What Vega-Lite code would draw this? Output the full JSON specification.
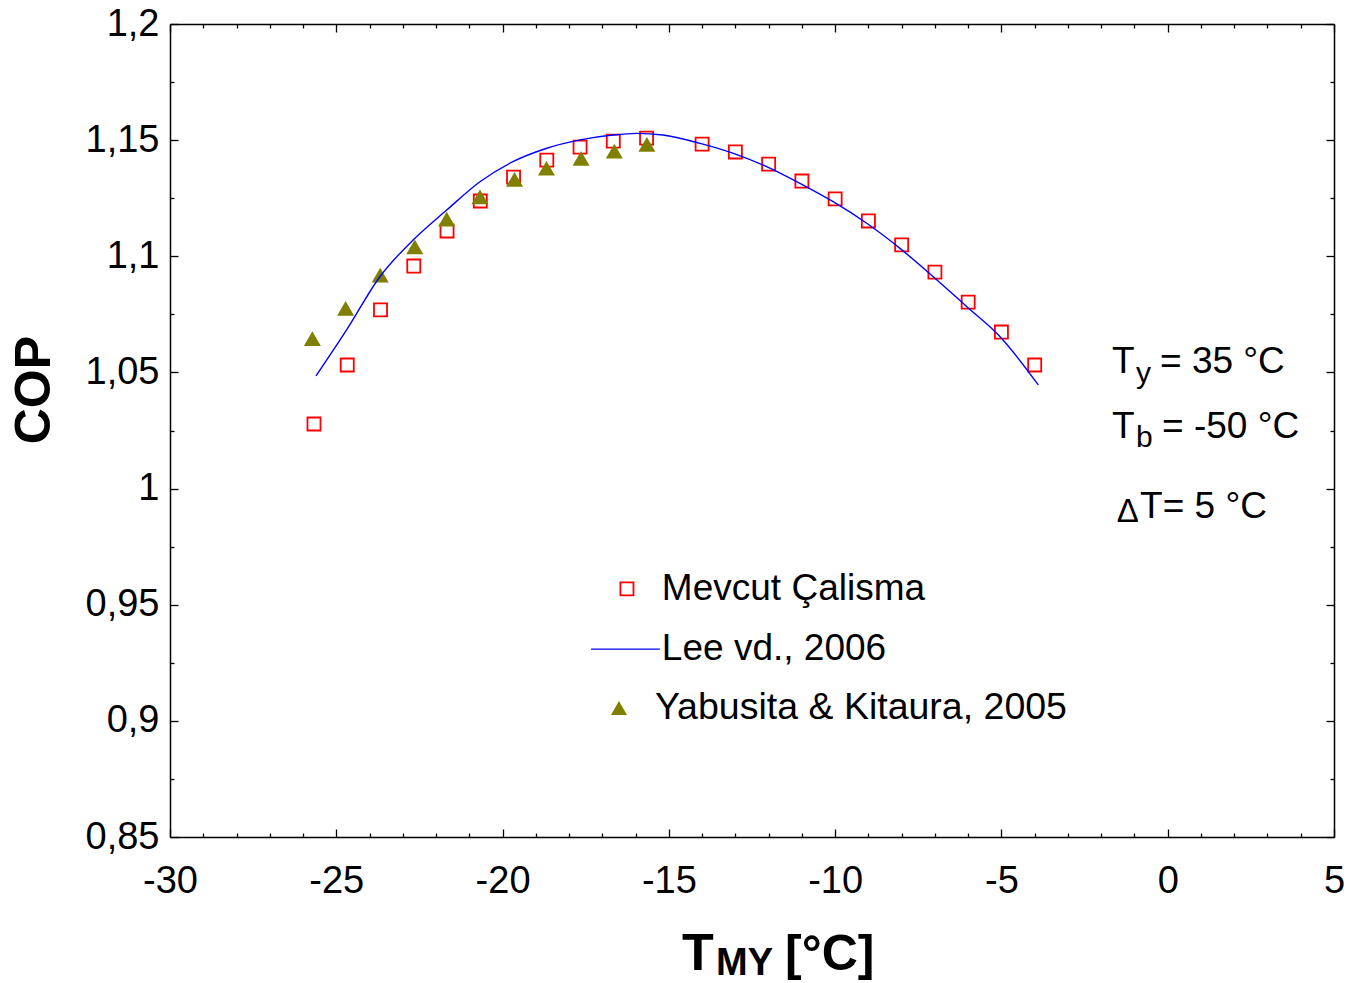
{
  "$schema": "https://vega.github.io/schema/vega-lite/v6.json",
  "width": 1164,
  "height": 813,
  "autosize": {"type": "none"},
  "padding": {"left": 170, "top": 24, "right": 20, "bottom": 146},
  "background": "white",
  "config": {
    "view": {"stroke": null},
    "axis": {
      "grid": false,
      "domainColor": "#000000",
      "domainWidth": 1.5,
      "tickColor": "#000000",
      "tickWidth": 1.3,
      "labelFont": "Liberation Sans",
      "labelFontSize": 38,
      "labelColor": "#000000",
      "labelOverlap": false,
      "labelFlush": false,
      "labelBound": false,
      "title": null
    },
    "text": {"font": "Liberation Sans", "color": "#000000"}
  },
  "datasets": {
    "mevcut": [
      {"x": -25.67, "y": 1.0278}, {"x": -24.67, "y": 1.0532}, {"x": -23.67, "y": 1.0769},
      {"x": -22.67, "y": 1.0958}, {"x": -21.67, "y": 1.1109}, {"x": -20.67, "y": 1.1238},
      {"x": -19.67, "y": 1.1341}, {"x": -18.67, "y": 1.1414}, {"x": -17.67, "y": 1.1470},
      {"x": -16.67, "y": 1.1496}, {"x": -15.67, "y": 1.1509}, {"x": -14, "y": 1.1483},
      {"x": -13, "y": 1.1449}, {"x": -12, "y": 1.1397}, {"x": -11, "y": 1.1324},
      {"x": -10, "y": 1.1247}, {"x": -9, "y": 1.1152}, {"x": -8, "y": 1.1049},
      {"x": -7, "y": 1.0932}, {"x": -6, "y": 1.0803}, {"x": -5, "y": 1.0674},
      {"x": -4, "y": 1.0532}
    ],
    "yabusita": [
      {"x": -25.72, "y": 1.0646}, {"x": -24.72, "y": 1.0776}, {"x": -23.68, "y": 1.0919},
      {"x": -22.64, "y": 1.1041}, {"x": -21.68, "y": 1.1160}, {"x": -20.68, "y": 1.1256},
      {"x": -19.64, "y": 1.1331}, {"x": -18.68, "y": 1.1379}, {"x": -17.64, "y": 1.1422},
      {"x": -16.64, "y": 1.1453}, {"x": -15.66, "y": 1.1482}
    ],
    "lee": [
      {"x": -25.61, "y": 1.0485}, {"x": -24.69, "y": 1.0683}, {"x": -23.69, "y": 1.0912},
      {"x": -22.69, "y": 1.1070}, {"x": -21.68, "y": 1.1199}, {"x": -20.68, "y": 1.1321},
      {"x": -19.69, "y": 1.1407}, {"x": -18.67, "y": 1.1465}, {"x": -17.67, "y": 1.1501},
      {"x": -16.68, "y": 1.1522}, {"x": -15.97, "y": 1.1529}, {"x": -15.18, "y": 1.1522},
      {"x": -14.06, "y": 1.1486}, {"x": -13.06, "y": 1.1443}, {"x": -12.06, "y": 1.1386},
      {"x": -11.06, "y": 1.1314}, {"x": -10.06, "y": 1.1235}, {"x": -9.05, "y": 1.1142},
      {"x": -8.05, "y": 1.1034}, {"x": -7.05, "y": 1.0912}, {"x": -6.04, "y": 1.0783},
      {"x": -5.04, "y": 1.0654}, {"x": -3.89, "y": 1.0446}
    ],
    "one": [{}]
  },
  "layer": [
    {
      "data": {"name": "mevcut"},
      "mark": {"type": "point", "shape": "square", "filled": false, "stroke": "#FF0000", "strokeWidth": 1.8, "size": 170, "opacity": 1},
      "encoding": {
        "x": {
          "field": "x", "type": "quantitative",
          "scale": {"domain": [-30, 5], "nice": false, "zero": false},
          "axis": {
            "orient": "bottom",
            "values": [-30,-29,-28,-27,-26,-25,-24,-23,-22,-21,-20,-19,-18,-17,-16,-15,-14,-13,-12,-11,-10,-9,-8,-7,-6,-5,-4,-3,-2,-1,0,1,2,3,4,5],
            "tickSize": {"condition": {"test": "datum.value % 5 === 0", "value": -8}, "value": -4},
            "labelExpr": "datum.value % 5 === 0 ? '' + datum.value : ''",
            "labelPadding": 33
          }
        },
        "y": {
          "field": "y", "type": "quantitative",
          "scale": {"domain": [0.85, 1.2], "nice": false, "zero": false},
          "axis": {
            "orient": "left",
            "values": [0.85,0.875,0.9,0.925,0.95,0.975,1,1.025,1.05,1.075,1.1,1.125,1.15,1.175,1.2],
            "tickSize": {"condition": {"test": "abs(datum.value*20 - round(datum.value*20)) < 0.001", "value": -8}, "value": -4},
            "labelExpr": "abs(datum.value*20 - round(datum.value*20)) < 0.001 ? replace(format(datum.value, '.2~f'), '.', ',') : ''",
            "labelPadding": 19
          }
        }
      }
    },
    {
      "data": {"name": "yabusita"},
      "mark": {"type": "point", "shape": "triangle-up", "filled": true, "fill": "#808000", "stroke": null, "size": 290, "opacity": 1},
      "encoding": {
        "x": {
          "field": "x", "type": "quantitative",
          "axis": {
            "orient": "top",
            "values": [-30,-29,-28,-27,-26,-25,-24,-23,-22,-21,-20,-19,-18,-17,-16,-15,-14,-13,-12,-11,-10,-9,-8,-7,-6,-5,-4,-3,-2,-1,0,1,2,3,4,5],
            "tickSize": {"condition": {"test": "datum.value % 5 === 0", "value": -8}, "value": -4},
            "labels": false
          }
        },
        "y": {
          "field": "y", "type": "quantitative",
          "axis": {
            "orient": "right",
            "values": [0.85,0.875,0.9,0.925,0.95,0.975,1,1.025,1.05,1.075,1.1,1.125,1.15,1.175,1.2],
            "tickSize": {"condition": {"test": "abs(datum.value*20 - round(datum.value*20)) < 0.001", "value": -8}, "value": -4},
            "labels": false
          }
        }
      }
    },
    {
      "data": {"name": "lee"},
      "mark": {"type": "line", "color": "#0000FF", "strokeWidth": 1.4, "interpolate": "monotone"},
      "encoding": {
        "x": {"field": "x", "type": "quantitative", "axis": null},
        "y": {"field": "y", "type": "quantitative", "axis": null}
      }
    },
    {
      "data": {"name": "one"},
      "mark": {"type": "point", "shape": "square", "filled": false, "stroke": "#FF0000", "strokeWidth": 1.8, "size": 170, "opacity": 1},
      "encoding": {
        "x": {"datum": -16.26, "type": "quantitative", "axis": null},
        "y": {"datum": 0.9568, "type": "quantitative", "axis": null}
      }
    },
    {
      "data": {"name": "one"},
      "mark": {"type": "text", "text": "Mevcut Çalisma", "fontSize": 37, "align": "left", "baseline": "middle"},
      "encoding": {
        "x": {"datum": -15.21, "type": "quantitative", "axis": null},
        "y": {"datum": 0.9568, "type": "quantitative", "axis": null}
      }
    },
    {
      "data": {"name": "one"},
      "mark": {"type": "rule", "color": "#0000FF", "strokeWidth": 1.4},
      "encoding": {
        "x": {"datum": -17.34, "type": "quantitative", "axis": null},
        "x2": {"datum": -15.27},
        "y": {"datum": 0.9309, "type": "quantitative", "axis": null}
      }
    },
    {
      "data": {"name": "one"},
      "mark": {"type": "text", "text": "Lee vd., 2006", "fontSize": 37, "align": "left", "baseline": "middle"},
      "encoding": {
        "x": {"datum": -15.21, "type": "quantitative", "axis": null},
        "y": {"datum": 0.9309, "type": "quantitative", "axis": null}
      }
    },
    {
      "data": {"name": "one"},
      "mark": {"type": "point", "shape": "triangle-up", "filled": true, "fill": "#808000", "stroke": null, "size": 260, "opacity": 1},
      "encoding": {
        "x": {"datum": -16.5, "type": "quantitative", "axis": null},
        "y": {"datum": 0.9055, "type": "quantitative", "axis": null}
      }
    },
    {
      "data": {"name": "one"},
      "mark": {"type": "text", "text": "Yabusita & Kitaura, 2005", "fontSize": 37.5, "align": "left", "baseline": "middle"},
      "encoding": {
        "x": {"datum": -15.42, "type": "quantitative", "axis": null},
        "y": {"datum": 0.9055, "type": "quantitative", "axis": null}
      }
    },
    {
      "data": {"name": "one"},
      "mark": {"type": "text", "text": "T", "fontSize": 37, "align": "left", "baseline": "alphabetic"},
      "encoding": {
        "x": {"datum": -1.675, "type": "quantitative", "axis": null},
        "y": {"datum": 1.04975, "type": "quantitative", "axis": null}
      }
    },
    {
      "data": {"name": "one"},
      "mark": {"type": "text", "text": "y", "fontSize": 30, "align": "left", "baseline": "alphabetic"},
      "encoding": {
        "x": {"datum": -0.953, "type": "quantitative", "axis": null},
        "y": {"datum": 1.0454, "type": "quantitative", "axis": null}
      }
    },
    {
      "data": {"name": "one"},
      "mark": {"type": "text", "text": "= 35 °C", "fontSize": 37, "align": "left", "baseline": "alphabetic"},
      "encoding": {
        "x": {"datum": -0.232, "type": "quantitative", "axis": null},
        "y": {"datum": 1.04975, "type": "quantitative", "axis": null}
      }
    },
    {
      "data": {"name": "one"},
      "mark": {"type": "text", "text": "T", "fontSize": 37, "align": "left", "baseline": "alphabetic"},
      "encoding": {
        "x": {"datum": -1.675, "type": "quantitative", "axis": null},
        "y": {"datum": 1.02177, "type": "quantitative", "axis": null}
      }
    },
    {
      "data": {"name": "one"},
      "mark": {"type": "text", "text": "b", "fontSize": 30, "align": "left", "baseline": "alphabetic"},
      "encoding": {
        "x": {"datum": -0.953, "type": "quantitative", "axis": null},
        "y": {"datum": 1.0179, "type": "quantitative", "axis": null}
      }
    },
    {
      "data": {"name": "one"},
      "mark": {"type": "text", "text": "= -50 °C", "fontSize": 37, "align": "left", "baseline": "alphabetic"},
      "encoding": {
        "x": {"datum": -0.171, "type": "quantitative", "axis": null},
        "y": {"datum": 1.02177, "type": "quantitative", "axis": null}
      }
    },
    {
      "data": {"name": "one"},
      "mark": {"type": "text", "text": "Δ", "fontSize": 33, "align": "left", "baseline": "alphabetic"},
      "encoding": {
        "x": {"datum": -1.53, "type": "quantitative", "axis": null},
        "y": {"datum": 0.98561, "type": "quantitative", "axis": null}
      }
    },
    {
      "data": {"name": "one"},
      "mark": {"type": "text", "text": "T= 5 °C", "fontSize": 37, "align": "left", "baseline": "alphabetic"},
      "encoding": {
        "x": {"datum": -0.83, "type": "quantitative", "axis": null},
        "y": {"datum": 0.98733, "type": "quantitative", "axis": null}
      }
    },
    {
      "data": {"name": "one"},
      "mark": {"type": "text", "text": "COP", "fontSize": 50, "fontWeight": "bold", "angle": 270, "align": "center", "baseline": "alphabetic"},
      "encoding": {
        "x": {"datum": -33.6, "type": "quantitative", "axis": null},
        "y": {"datum": 1.0424, "type": "quantitative", "axis": null}
      }
    },
    {
      "data": {"name": "one"},
      "mark": {"type": "text", "text": "T", "fontSize": 52, "fontWeight": "bold", "align": "left", "baseline": "alphabetic"},
      "encoding": {
        "x": {"datum": -14.605, "type": "quantitative", "axis": null},
        "y": {"datum": 0.79274, "type": "quantitative", "axis": null}
      }
    },
    {
      "data": {"name": "one"},
      "mark": {"type": "text", "text": "MY", "fontSize": 38, "fontWeight": "bold", "align": "left", "baseline": "alphabetic"},
      "encoding": {
        "x": {"datum": -13.58, "type": "quantitative", "axis": null},
        "y": {"datum": 0.7906, "type": "quantitative", "axis": null}
      }
    },
    {
      "data": {"name": "one"},
      "mark": {"type": "text", "text": "[°C]", "fontSize": 50, "fontWeight": "bold", "align": "left", "baseline": "alphabetic"},
      "encoding": {
        "x": {"datum": -11.508, "type": "quantitative", "axis": null},
        "y": {"datum": 0.79274, "type": "quantitative", "axis": null}
      }
    }
  ],
  "resolve": {"axis": {"x": "independent", "y": "independent"}}
}
